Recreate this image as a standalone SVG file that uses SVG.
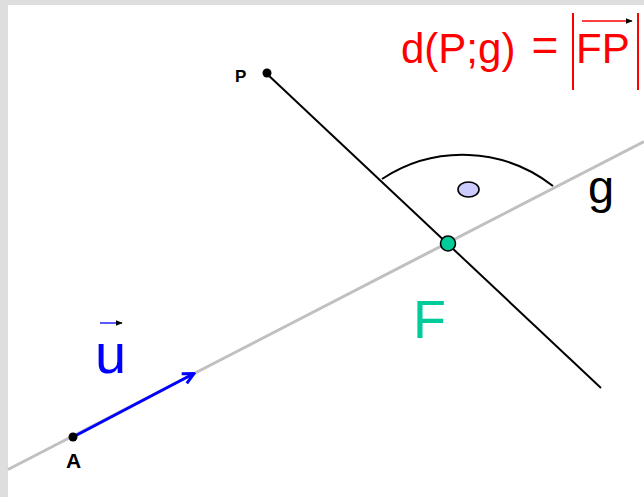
<svg xmlns="http://www.w3.org/2000/svg" width="644" height="497" viewBox="0 0 644 497">
<defs>
<style>
.lbl{font-family:"Liberation Sans",Arial,sans-serif}
.red{fill:#ff0000}
.pt{fill:#000}
</style>
<marker id="ah" viewBox="0 0 14 14" refX="12.5" refY="7" markerWidth="14" markerHeight="14" markerUnits="userSpaceOnUse" orient="auto">
<path d="M1.5,1.5 L12.5,7 L1.5,12.5" fill="none" stroke="#0000ff" stroke-width="3"/>
</marker>
<marker id="ahs" viewBox="0 0 10 10" refX="9" refY="5" markerWidth="7" markerHeight="7" markerUnits="userSpaceOnUse" orient="auto">
<path d="M0,1 L10,5 L0,9 Z" fill="currentColor"/>
</marker>
</defs>
<rect x="0" y="0" width="644" height="497" fill="#ffffff"/>
<rect x="0" y="0" width="644" height="5" fill="#dedede"/>
<rect x="0" y="0" width="8" height="497" fill="#dedede"/>
<g id="connectors">
<line id="line-g" x1="8" y1="469.5" x2="644" y2="141.5" stroke="#c0c0c0" stroke-width="3"/>
<line id="perp" x1="266" y1="73" x2="601" y2="388" stroke="#000" stroke-width="2"/>
<path id="angle-arc" d="M382,179 A146.5,146.5 0 0 1 553,186" fill="none" stroke="#000" stroke-width="2"/>
<line id="vec-u" x1="73" y1="437" x2="194" y2="373.5" stroke="#0000ff" stroke-width="3" marker-end="url(#ah)"/>
</g>
<g id="node-angle-dot">
<ellipse cx="468.5" cy="189.5" rx="10.5" ry="7.5" fill="#ccccff" stroke="#000" stroke-width="1.6"/>
</g>
<g id="node-P">
<circle cx="267" cy="73" r="4.5" class="pt"/>
<text x="235" y="82" class="lbl" font-size="17" font-weight="bold" fill="#000">P</text>
</g>
<g id="node-A">
<circle cx="73" cy="437" r="4.5" class="pt"/>
<text x="66" y="468" class="lbl" font-size="21" font-weight="bold" fill="#000">A</text>
</g>
<g id="node-F">
<circle cx="448" cy="243.5" r="7.5" fill="#00cc99" stroke="#000" stroke-width="1.6"/>
<text x="413" y="338" class="lbl" font-size="54" fill="#00cc99">F</text>
</g>
<g id="label-g">
<text x="588" y="203" class="lbl" font-size="47" fill="#000">g</text>
</g>
<g id="label-u">
<line x1="100" y1="323" x2="122" y2="323" stroke="#0000ff" stroke-width="1.3" color="#0000ff" marker-end="url(#ahs)"/>
<text x="95" y="373" class="lbl" font-size="56" fill="#0000ff">u</text>
</g>
<g id="formula">
<text x="401" y="63" class="lbl red" font-size="42">d(P;g)</text>
<text x="545" y="61" class="lbl red" font-size="46" text-anchor="middle">=</text>
<line x1="573" y1="13" x2="573" y2="90" stroke="#ff0000" stroke-width="2"/>
<line x1="638" y1="13" x2="638" y2="90" stroke="#ff0000" stroke-width="2"/>
<line x1="582" y1="21" x2="632" y2="21" stroke="#ff0000" stroke-width="1.5" color="#ff0000" marker-end="url(#ahs)"/>
<text x="576" y="63" class="lbl red" font-size="42">FP</text>
</g>
</svg>
